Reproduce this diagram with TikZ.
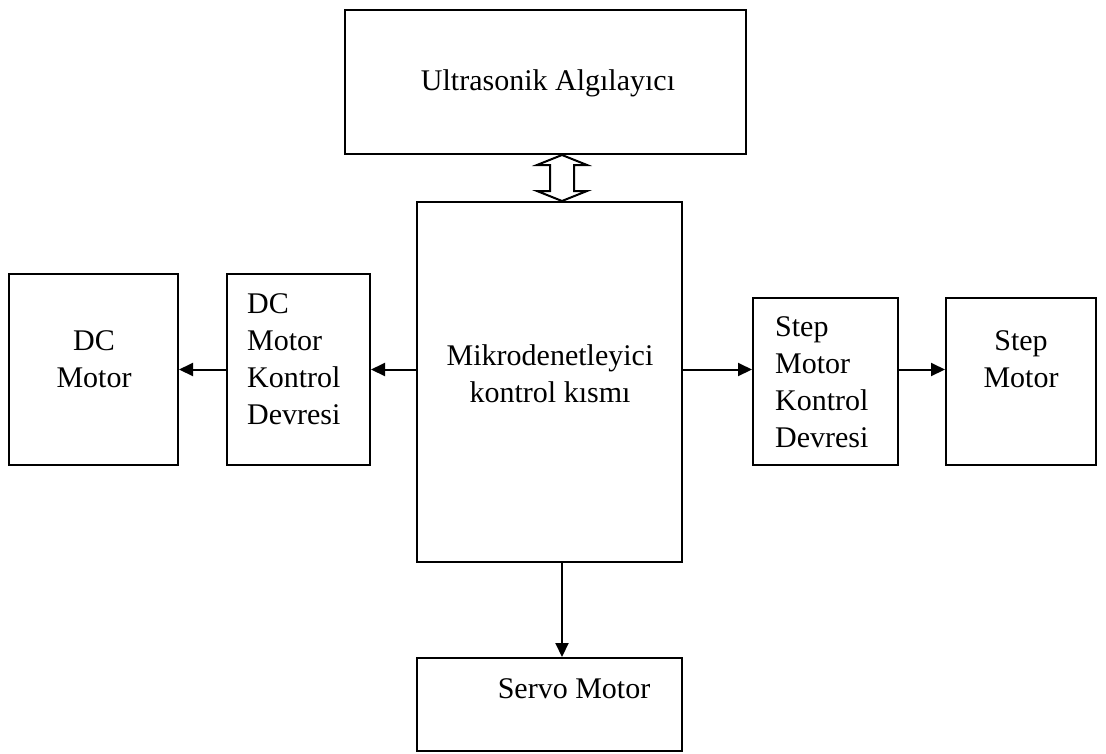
\documentclass[tikz,border=0pt]{standalone}
\usepackage{fontspec}
\setmainfont{Liberation Serif}
\usetikzlibrary{arrows.meta,calc}
\begin{document}
\begin{tikzpicture}[x=1pt,y=-1pt,
  box/.style={draw,line width=2pt,inner sep=0pt},
  lbl/.style={inner sep=0pt,font=\fontsize{30}{37}\selectfont},
  arr/.style={line width=2pt,-{Triangle[length=14pt,width=13pt]}},
  barrow/.style={draw,line width=2pt,fill=white,line join=miter}]
\useasboundingbox (0,0) rectangle (1106,753);
% boxes
\node[box,minimum width=401pt,minimum height=144pt] (ultra) at (545.5,82) {};
\node[box,minimum width=265pt,minimum height=360pt] (mikro) at (549.5,382) {};
\node[box,minimum width=169pt,minimum height=191pt] (dcm) at (93.5,369.5) {};
\node[box,minimum width=143pt,minimum height=191pt] (dck) at (298.5,369.5) {};
\node[box,minimum width=145pt,minimum height=167pt] (stk) at (825.5,381.5) {};
\node[box,minimum width=150pt,minimum height=167pt] (stm) at (1021,381.5) {};
\node[box,minimum width=265pt,minimum height=93pt] (servo) at (549.5,704.5) {};
% texts (base = baseline of the last line)
\node[lbl,anchor=base] (ultrat) at (548,90) {Ultrasonik Algılayıcı};
\node[lbl,anchor=base,align=center] (mikrot) at (550,402) {Mikrodenetleyici\\kontrol kısmı};
\node[lbl,anchor=base,align=center] (dcmt) at (94,387) {DC\\Motor};
\node[lbl,anchor=base west,align=left] (dckt) at (247,424) {DC\\Motor\\Kontrol\\Devresi};
\node[lbl,anchor=base west,align=left] (stkt) at (775,447) {Step\\Motor\\Kontrol\\Devresi};
\node[lbl,anchor=base,align=center] (stmt) at (1021,387) {Step\\Motor};
\node[lbl,anchor=base] (servot) at (574,698) {Servo Motor};
% connectors
\coordinate (ax) at (562,0);
\draw[arr] (dck.east -| mikro.west) -- (dck.east);
\draw[arr] (dck.west) -- (dcm.east);
\draw[arr] (dck.east -| mikro.east) -- (dck.east -| stk.west);
\draw[arr] (dck.east -| stk.east) -- (dck.east -| stm.west);
\draw[arr] (mikro.south -| ax) -- (servo.north -| ax);
% double block arrow between ultra and mikro
\coordinate (dt) at (ultra.south -| ax);
\coordinate (db) at (mikro.north -| ax);
\draw[barrow] (dt) -- ($(dt)+(25,10)$) -- ($(dt)+(12,10)$) -- ($(db)+(12,-10)$) -- ($(db)+(25,-10)$)
  -- (db) -- ($(db)+(-25,-10)$) -- ($(db)+(-12,-10)$) -- ($(dt)+(-12,10)$) -- ($(dt)+(-25,10)$) -- cycle;
\end{tikzpicture}
\end{document}
